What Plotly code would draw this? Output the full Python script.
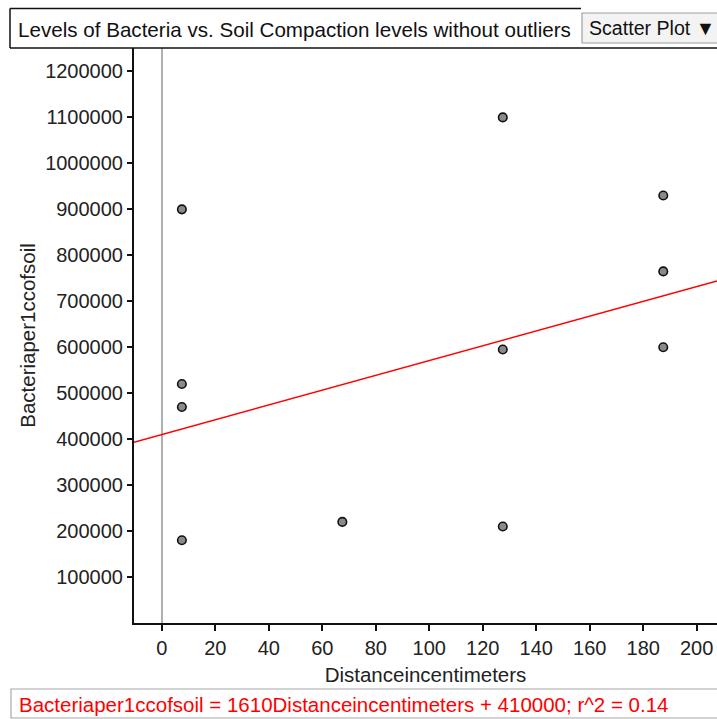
import plotly.graph_objects as go

# ---- data ----
distance_cm = [7.5, 7.5, 7.5, 7.5, 67.5, 127.5, 127.5, 127.5, 187.5, 187.5, 187.5]
bacteria_per_cc = [900000, 520000, 470000, 180000, 220000, 1100000, 595000, 210000, 930000, 765000, 600000]
fit_slope = 1610
fit_intercept = 410000
r_squared = 0.14
x_ticks = [0, 20, 40, 60, 80, 100, 120, 140, 160, 180, 200]
y_ticks = [100000, 200000, 300000, 400000, 500000, 600000, 700000, 800000, 900000, 1000000, 1100000, 1200000]
x_range = [-10.4, 207.6]
y_range = [0, 1251000]

title_text = "Levels of Bacteria vs. Soil Compaction levels without outliers"
x_title = "Distanceincentimeters"
y_title = "Bacteriaper1ccofsoil"
equation = f"{y_title} = {fit_slope}{x_title} + {fit_intercept}; r^2 = {r_squared}"

W, H = 717, 719
L, R, T, B = 134, 0, 48, 96
PW, PH = W - L - R, H - T - B
FONT = "Liberation Sans, Arial, sans-serif"


def px(x):
    return (x - L) / PW


def py(y):
    return (H - B - y) / PH


fig = go.Figure()

fig.add_trace(go.Scatter(
    x=x_range,
    y=[fit_slope * v + fit_intercept for v in x_range],
    mode="lines",
    line=dict(color="#ff0000", width=1.5),
    hoverinfo="skip",
    showlegend=False,
))

fig.add_trace(go.Scatter(
    x=distance_cm,
    y=bacteria_per_cc,
    mode="markers",
    marker=dict(size=8.5, color="#8a8a8a", line=dict(color="#111111", width=1.6)),
    showlegend=False,
))

shapes = [
    # title box
    dict(type="line", xref="paper", yref="paper", x0=px(10), x1=px(581), y0=py(8.5), y1=py(8.5),
         line=dict(color="#111", width=1.5)),
    dict(type="line", xref="paper", yref="paper", x0=px(10), x1=px(10), y0=py(8.5), y1=py(48),
         line=dict(color="#111", width=1.5)),
    dict(type="line", xref="paper", yref="paper", x0=px(10), x1=px(717), y0=py(48), y1=py(48),
         line=dict(color="#111", width=1.5)),
    # dropdown
    dict(type="rect", xref="paper", yref="paper", x0=px(582), x1=px(720), y0=py(13), y1=py(43),
         fillcolor="#f3f3f3", line=dict(color="#a0a0a0", width=1.2)),
    # equation box
    dict(type="rect", xref="paper", yref="paper", x0=px(11), x1=px(720), y0=py(689), y1=py(718),
         fillcolor="white", line=dict(color="#a8a8a8", width=1.2)),
]

annotations = [
    dict(text=title_text, xref="paper", yref="paper", x=px(16), y=py(29), xanchor="left", yanchor="middle",
         showarrow=False, font=dict(family=FONT, size=20.6, color="#111")),
    dict(text="Scatter Plot ▼", xref="paper", yref="paper", x=px(587), y=py(28), xanchor="left", yanchor="middle",
         showarrow=False, font=dict(family=FONT, size=19.6, color="#111")),
    dict(text=equation, xref="paper", yref="paper", x=px(17), y=py(704), xanchor="left", yanchor="middle",
         showarrow=False, font=dict(family=FONT, size=20.5, color="#ff0000")),
]

fig.update_layout(
    width=W, height=H,
    margin=dict(l=L, r=R, t=T, b=B, autoexpand=False),
    paper_bgcolor="white", plot_bgcolor="white",
    font=dict(family=FONT, size=20, color="#222"),
    shapes=shapes,
    annotations=annotations,
    showlegend=False,
)

fig.update_xaxes(
    range=x_range, tickvals=x_ticks, ticks="outside", ticklen=6, tickwidth=1.5, tickcolor="#111",
    showline=True, linecolor="#111", linewidth=2, showgrid=False,
    zeroline=True, zerolinecolor="#b0b0b0", zerolinewidth=1.5,
    tickfont=dict(family=FONT, size=20, color="#222"),
    title=dict(text=x_title, font=dict(family=FONT, size=20.5, color="#222"), standoff=10),
    automargin=False,
)
fig.update_yaxes(
    range=y_range, tickvals=y_ticks, ticks="outside", ticklen=5, tickwidth=1.5, tickcolor="#111",
    showline=True, linecolor="#111", linewidth=2, showgrid=False, zeroline=False,
    tickfont=dict(family=FONT, size=20, color="#222"), tickformat="d",
    title=dict(text=y_title, font=dict(family=FONT, size=20.5, color="#222"), standoff=4),
    automargin=False,
)

fig.write_html(
    "out.html",
    config={"displayModeBar": False},
    post_script="document.body.style.margin='0';document.body.style.overflow='hidden';",
)
